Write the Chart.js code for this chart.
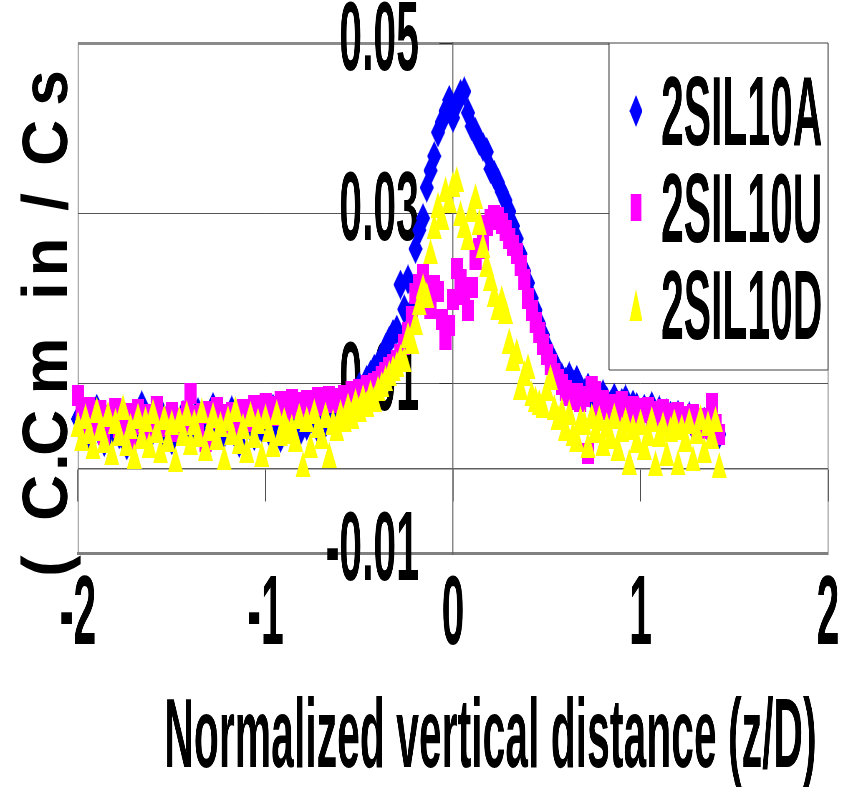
<!DOCTYPE html>
<html>
<head>
<meta charset="utf-8">
<title>Concentration profiles</title>
<script src="https://cdn.jsdelivr.net/npm/chart.js@4.4.1/dist/chart.umd.min.js"></script>
<style>
    html, body { margin: 0; padding: 0; background: #fff; overflow: hidden; }
    #chart { display: block; }
</style>
</head>
<body>
<canvas id="chart" width="2020" height="792" style="width:843px;height:792px"></canvas>
<script>
/* ===== DATA ===== */
const seriesNames = ['2SIL10A', '2SIL10U', '2SIL10D'];

// normalized vertical distance z/D
const zPositions = [
    -2.00, -1.98, -1.96, -1.94, -1.92, -1.90, -1.88, -1.86, -1.84, -1.82,
    -1.80, -1.78, -1.76, -1.74, -1.72, -1.70, -1.68, -1.66, -1.64, -1.62,
    -1.60, -1.58, -1.56, -1.54, -1.52, -1.50, -1.48, -1.46, -1.44, -1.42,
    -1.40, -1.38, -1.36, -1.34, -1.32, -1.30, -1.28, -1.26, -1.24, -1.22,
    -1.20, -1.18, -1.16, -1.14, -1.12, -1.10, -1.08, -1.06, -1.04, -1.02,
    -1.00, -0.98, -0.96, -0.94, -0.92, -0.90, -0.88, -0.86, -0.84, -0.82,
    -0.80, -0.78, -0.76, -0.74, -0.72, -0.70, -0.68, -0.66, -0.64, -0.62,
    -0.60, -0.58, -0.56, -0.54, -0.52, -0.50, -0.48, -0.46, -0.44, -0.42,
    -0.40, -0.38, -0.36, -0.34, -0.32, -0.30, -0.28, -0.26, -0.24, -0.22,
    -0.20, -0.18, -0.16, -0.14, -0.12, -0.10, -0.08, -0.06, -0.04, -0.02,
     0.00,  0.02,  0.04,  0.06,  0.08,  0.10,  0.12,  0.14,  0.16,  0.18,
     0.20,  0.22,  0.24,  0.26,  0.28,  0.30,  0.32,  0.34,  0.36,  0.38,
     0.40,  0.42,  0.44,  0.46,  0.48,  0.50,  0.52,  0.54,  0.56,  0.58,
     0.60,  0.62,  0.64,  0.66,  0.68,  0.70,  0.72,  0.74,  0.76,  0.78,
     0.80,  0.82,  0.84,  0.86,  0.88,  0.90,  0.92,  0.94,  0.96,  0.98,
     1.00,  1.02,  1.04,  1.06,  1.08,  1.10,  1.12,  1.14,  1.16,  1.18,
     1.20,  1.22,  1.24,  1.26,  1.28,  1.30,  1.32,  1.34,  1.36,  1.38,
     1.40,  1.42
];

const conc10A = [
    0.0058, 0.0046, 0.0063, 0.0037, 0.0052, 0.0070, 0.0049, 0.0031, 0.0056, 0.0044,
    0.0065, 0.0040, 0.0054, 0.0027, 0.0050, 0.0061, 0.0043, 0.0074, 0.0053, 0.0036,
    0.0057, 0.0047, 0.0067, 0.0039, 0.0051, 0.0033, 0.0060, 0.0045, 0.0063, 0.0048,
    0.0042, 0.0059, 0.0066, 0.0049, 0.0035, 0.0055, 0.0072, 0.0046, 0.0058, 0.0041,
    0.0053, 0.0068, 0.0044, 0.0030, 0.0057, 0.0050, 0.0064, 0.0038, 0.0055, 0.0047,
    0.0061, 0.0043, 0.0070, 0.0052, 0.0036, 0.0059, 0.0048, 0.0065, 0.0054, 0.0041,
    0.0062, 0.0050, 0.0057, 0.0069, 0.0046, 0.0060, 0.0053, 0.0071, 0.0058, 0.0066,
    0.0068, 0.0075, 0.0072, 0.0083, 0.0088, 0.0096, 0.0092, 0.0104, 0.0110, 0.0117,
    0.0122, 0.0130, 0.0141, 0.0150, 0.0158, 0.0163, 0.0216, 0.0187, 0.0222, 0.0185,
    0.0258, 0.0280, 0.0294, 0.0330, 0.0350, 0.0367, 0.0395, 0.0407, 0.0420, 0.0433,
    0.0412, 0.0428, 0.0440, 0.0443, 0.0418, 0.0402, 0.0395, 0.0385, 0.0378, 0.0372,
    0.0352, 0.0345, 0.0336, 0.0325, 0.0315, 0.0302, 0.0285, 0.0270, 0.0252, 0.0232,
    0.0218, 0.0200, 0.0186, 0.0170, 0.0157, 0.0143, 0.0132, 0.0124, 0.0113, 0.0107,
    0.0102, 0.0108, 0.0099, 0.0104, 0.0093, 0.0088, 0.0095, 0.0084, 0.0090, 0.0081,
    0.0087, 0.0079, 0.0074, 0.0083, 0.0070, 0.0077, 0.0081, 0.0068, 0.0075, 0.0072,
    0.0064, 0.0070, 0.0066, 0.0073, 0.0061, 0.0068, 0.0058, 0.0065, 0.0062, 0.0056,
    0.0063, 0.0059, 0.0054, 0.0061, 0.0050, 0.0057, 0.0052, 0.0055, 0.0048, 0.0053,
    0.0046, 0.0040
];

const conc10U = [
    0.0086, 0.0064, 0.0051, 0.0072, 0.0045, 0.0060, 0.0068, 0.0040, 0.0062, 0.0053,
    0.0070, 0.0048, 0.0057, 0.0065, 0.0027, 0.0061, 0.0069, 0.0051, 0.0063, 0.0046,
    0.0058, 0.0073, 0.0049, 0.0060, 0.0056, 0.0066, 0.0043, 0.0059, 0.0052, 0.0067,
    0.0088, 0.0062, 0.0054, 0.0064, 0.0031, 0.0067, 0.0058, 0.0071, 0.0063, 0.0049,
    0.0057, 0.0066, 0.0052, 0.0060, 0.0069, 0.0055, 0.0062, 0.0074, 0.0053, 0.0068,
    0.0076, 0.0069, 0.0073, 0.0062, 0.0079, 0.0066, 0.0075, 0.0081, 0.0070, 0.0077,
    0.0072, 0.0080, 0.0068, 0.0076, 0.0083, 0.0074, 0.0079, 0.0085, 0.0077, 0.0082,
    0.0078, 0.0086, 0.0082, 0.0090, 0.0087, 0.0093, 0.0089, 0.0097, 0.0094, 0.0100,
    0.0102, 0.0108, 0.0113, 0.0118, 0.0122, 0.0127, 0.0134, 0.0146, 0.0160, 0.0178,
    0.0205, 0.0216, 0.0228, 0.0200, 0.0188, 0.0215, 0.0208, 0.0175, 0.0152, 0.0168,
    0.0198, 0.0235, 0.0222, 0.0204, 0.0185, 0.0212, 0.0245, 0.0258, 0.0268, 0.0285,
    0.0292, 0.0297, 0.0295, 0.0288, 0.0280, 0.0270, 0.0262, 0.0252, 0.0238, 0.0222,
    0.0200, 0.0186, 0.0172, 0.0160, 0.0146, 0.0134, 0.0122, 0.0112, 0.0104, 0.0098,
    0.0092, 0.0086, 0.0081, 0.0088, 0.0078, 0.0084, 0.0018, 0.0096, 0.0090, 0.0072,
    0.0080, 0.0069, 0.0075, 0.0064, 0.0071, 0.0078, 0.0060, 0.0068, 0.0073, 0.0062,
    0.0070, 0.0066, 0.0072, 0.0059, 0.0067, 0.0063, 0.0069, 0.0056, 0.0064, 0.0060,
    0.0066, 0.0053, 0.0061, 0.0057, 0.0063, 0.0050, 0.0058, 0.0054, 0.0047, 0.0076,
    0.0052, 0.0040
];

const conc10D = [
    0.0052, 0.0036, 0.0061, 0.0044, 0.0026, 0.0069, 0.0048, 0.0033, 0.0064, 0.0019,
    0.0056, 0.0041, 0.0072, 0.0030, 0.0050, 0.0015, 0.0062, 0.0038, 0.0058, 0.0028,
    0.0067, 0.0045, 0.0021, 0.0060, 0.0034, 0.0054, 0.0011, 0.0058, 0.0042, 0.0065,
    0.0031, 0.0055, 0.0040, 0.0068, 0.0024, 0.0047, 0.0063, 0.0037, 0.0052, 0.0013,
    0.0059, 0.0043, 0.0070, 0.0032, 0.0050, 0.0022, 0.0064, 0.0039, 0.0056, 0.0017,
    0.0061, 0.0046, 0.0029, 0.0066, 0.0041, 0.0057, 0.0044, 0.0049, 0.0035, 0.0062,
    0.0005, 0.0058, 0.0027, 0.0067, 0.0051, 0.0038, 0.0063, 0.0016, 0.0055, 0.0047,
    0.0066, 0.0058, 0.0074, 0.0062, 0.0079, 0.0070, 0.0084, 0.0076, 0.0089, 0.0082,
    0.0094, 0.0099, 0.0106, 0.0112, 0.0118, 0.0123, 0.0131, 0.0128, 0.0157, 0.0150,
    0.0172, 0.0195, 0.0214, 0.0204, 0.0255, 0.0285, 0.0310, 0.0296, 0.0328, 0.0316,
    0.0334, 0.0340, 0.0300, 0.0286, 0.0272, 0.0305, 0.0320, 0.0290, 0.0262, 0.0240,
    0.0224, 0.0205, 0.0190, 0.0200, 0.0185, 0.0150, 0.0130, 0.0138, 0.0096, 0.0112,
    0.0120, 0.0088, 0.0082, 0.0078, 0.0074, 0.0094, 0.0107, 0.0072, 0.0060, 0.0068,
    0.0048, 0.0066, 0.0041, 0.0035, 0.0058, 0.0054, 0.0028, 0.0062, 0.0045, 0.0059,
    0.0030, 0.0051, 0.0038, 0.0062, 0.0024, 0.0046, 0.0057, 0.0008, 0.0049, 0.0033,
    0.0055, 0.0025, 0.0042, 0.0058, 0.0006, 0.0040, 0.0052, 0.0018, 0.0046, 0.0055,
    0.0007, 0.0049, 0.0035, 0.0056, 0.0012, 0.0044, 0.0060, 0.0022, 0.0053, 0.0038,
    0.0058, 0.0004
];

const xTickValues = [-2, -1, 0, 1, 2];
const yTickValues = [-0.01, 0.01, 0.03, 0.05];

/* ===== LOOK ===== */
// the original picture is squeezed sideways, so the canvas is drawn wide
// and shrunk back to 843px by css
const SX = 843 / 2020;
const FONT = '"Liberation Sans", Arial, sans-serif';

Chart.defaults.font.family = FONT;
Chart.defaults.font.weight = 'bold';
Chart.defaults.color = '#000';

/**
 * Build a marker picture (sizes given in on-screen pixels)
 */
function makeMarker(shape, w, h, color) {
    const c = document.createElement('canvas');
    const cw = Math.round(w / SX);
    c.width = cw;
    c.height = h;
    const g = c.getContext('2d');
    g.fillStyle = color;
    g.beginPath();
    if (shape === 'diamond') {
        g.moveTo(cw / 2, 0);
        g.lineTo(cw, h / 2);
        g.lineTo(cw / 2, h);
        g.lineTo(0, h / 2);
    } else if (shape === 'triangle') {
        g.moveTo(cw / 2, 0);
        g.lineTo(cw, h);
        g.lineTo(0, h);
    } else {
        g.rect(0, 0, cw, h);
    }
    g.closePath();
    g.fill();
    return c;
}

const colors = ['#0000ff', '#ff00ff', '#ffff00'];
const plotMarks = [
    makeMarker('diamond', 14, 30, colors[0]),
    makeMarker('square', 12, 21, colors[1]),
    makeMarker('triangle', 15, 26, colors[2])
];
const legendMarks = [
    makeMarker('diamond', 13, 32, colors[0]),
    makeMarker('square', 11, 27, colors[1]),
    makeMarker('triangle', 13, 32, colors[2])
];

function toPoints(values) {
    return zPositions.map((z, i) => ({ x: z, y: values[i] }));
}

function setTicks(values) {
    return scale => { scale.ticks = values.map(v => ({ value: v })); };
}

/* ===== PLUGINS ===== */

// boxed legend in the upper right corner of the plot
const legendBox = {
    id: 'legendBox',
    afterDraw(chart) {
        const ctx = chart.ctx;
        const left = 609 / SX;
        const right = chart.chartArea.right;
        const top = 43, bottom = 370;
        const markX = 636 / SX, textX = 661 / SX;
        const rowMid = [111, 207, 305];
        const rowBase = [145, 242, 339];

        ctx.save();
        ctx.fillStyle = '#fff';
        ctx.fillRect(left, top - 2, right - left, bottom - top + 2);
        ctx.fillStyle = '#404040';
        ctx.fillRect(left - 1.2, top, 2.4, bottom - top);
        ctx.fillRect(right - 1.2, top, 2.4, bottom - top);
        ctx.fillRect(left, top - 0.5, right - left, 1);
        ctx.fillRect(left, bottom - 0.5, right - left, 1);

        ctx.font = 'bold 98px ' + FONT;
        ctx.textAlign = 'left';
        ctx.textBaseline = 'alphabetic';
        chart.data.datasets.forEach((ds, i) => {
            const m = legendMarks[i];
            ctx.drawImage(m, markX - m.width / 2, rowMid[i] - m.height / 2);
            ctx.fillStyle = '#000';
            ctx.fillText(ds.label, textX, rowBase[i]);
        });
        ctx.restore();
    }
};

// rotated y title, drawn un-squeezed with wide letter gaps
const yTitleGlyphs = [
    ['(', 566], ['C', 498], ['.', 462], ['C', 433], ['m', 366],
    ['i', 291], ['n', 257], ['/', 202], ['C', 143], ['s', 88]
];
const yTitle = {
    id: 'yTitle',
    afterDraw(chart) {
        const ctx = chart.ctx;
        ctx.save();
        ctx.fillStyle = '#000';
        ctx.font = 'bold 64px ' + FONT;
        ctx.textAlign = 'center';
        ctx.textBaseline = 'alphabetic';
        yTitleGlyphs.forEach(([ch, y]) => {
            ctx.save();
            ctx.translate(67 / SX, y);
            ctx.scale(1 / SX, 1);
            ctx.rotate(-Math.PI / 2);
            ctx.fillText(ch, 0, 0);
            ctx.restore();
        });
        ctx.restore();
    }
};

/* ===== CHART ===== */
const isEdge = v => Math.abs(v - 0.05) < 1e-6 || Math.abs(v + 0.01) < 1e-6;

new Chart(document.getElementById('chart'), {
    type: 'scatter',
    data: {
        datasets: [
            { label: seriesNames[0], data: toPoints(conc10A), pointStyle: plotMarks[0], backgroundColor: colors[0], order: 3 },
            { label: seriesNames[1], data: toPoints(conc10U), pointStyle: plotMarks[1], backgroundColor: colors[1], order: 2 },
            { label: seriesNames[2], data: toPoints(conc10D), pointStyle: plotMarks[2], backgroundColor: colors[2], order: 1 }
        ]
    },
    options: {
        responsive: false,
        animation: false,
        devicePixelRatio: 1,
        clip: false,
        layout: { padding: { left: 78 / SX, right: 2020 - 828 / SX, top: 43, bottom: 0 } },
        plugins: {
            legend: { display: false },
            tooltip: { enabled: false }
        },
        scales: {
            x: {
                type: 'linear',
                position: 'bottom',
                min: -2,
                max: 2,
                afterBuildTicks: setTicks(xTickValues),
                ticks: { font: { size: 98, weight: 'bold', lineHeight: 1.2 }, color: '#000', padding: 5, maxRotation: 0, autoSkip: false },
                grid: {
                    drawTicks: false,
                    lineWidth: 2.4,
                    color: c => (c.tick && Math.abs(c.tick.value) === 2 ? '#808080' : 'rgba(0,0,0,0)')
                },
                border: { display: true, color: '#808080', width: 3 },
                title: {
                    display: true,
                    text: 'Normalized vertical distance (z/D) ',
                    align: 'end',
                    color: '#000',
                    font: { size: 98, weight: 'bold', lineHeight: 1 },
                    padding: { top: 10, bottom: 3 }
                }
            },
            xCross: {
                type: 'linear',
                axis: 'x',
                position: { y: 0 },
                min: -2,
                max: 2,
                afterBuildTicks: setTicks(xTickValues),
                ticks: { display: false },
                grid: { drawOnChartArea: false, drawTicks: true, tickLength: 32, tickColor: '#404040', tickWidth: 2.4 },
                border: { display: true, color: '#606060', width: 1.5 }
            },
            y: {
                type: 'linear',
                position: { x: 0 },
                min: -0.01,
                max: 0.05,
                afterBuildTicks: setTicks(yTickValues),
                afterFit: s => { s.paddingTop = 0; s.paddingBottom = 0; },
                ticks: {
                    font: { size: 98, weight: 'bold', lineHeight: 1 },
                    color: '#000',
                    // trailing gap keeps the labels clear of the axis line
                    callback: v => v.toFixed(2) + '   '
                },
                grid: {
                    color: c => (c.tick && isEdge(c.tick.value) ? '#8a8a8a' : '#555555'),
                    lineWidth: c => (c.tick && isEdge(c.tick.value) ? 3 : 1),
                    tickLength: 31,
                    tickColor: '#303030',
                    tickWidth: 1
                },
                border: { display: true, color: '#606060', width: 2.4 }
            }
        }
    },
    plugins: [legendBox, yTitle]
});
</script>
</body>
</html>
